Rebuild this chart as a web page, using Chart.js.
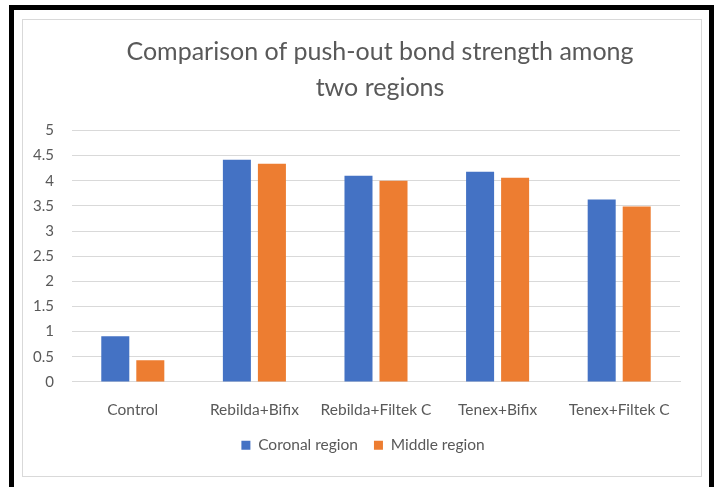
<!DOCTYPE html>
<html>
<head>
<meta charset="utf-8">
<script src="https://cdn.jsdelivr.net/npm/chart.js@4"></script>
<style>
  body { margin: 0; background: #fff; width: 720px; height: 487px; overflow: hidden; position: relative; }
  #frame { position: absolute; left: 9px; top: 5px; width: 695px; height: 500px; border: 5px solid #000; border-bottom: none; }
  #box { position: absolute; left: 22px; top: 19px; width: 680px; height: 458px; border: 1px solid #d9d9d9; box-sizing: border-box; }
  #wrap { position: absolute; left: 22px; top: 19px; width: 680px; height: 458px; }
</style>
</head>
<body>
<div id="frame"></div>
<div id="box"></div>
<div id="wrap"><canvas id="chart"></canvas></div>
<script>
// données
const categories = ["Control", "Rebilda+Bifix", "Rebilda+Filtek C", "Tenex+Bifix", "Tenex+Filtek C"];
const coronal = [0.91, 4.42, 4.10, 4.18, 3.63];
const middle = [0.43, 4.34, 4.00, 4.06, 3.49];
const seriesNames = ["Coronal region", "Middle region"];
const titleLines = ["Comparison of push-out bond strength among", "two regions"];

const fontFamily = "Lato, 'Open Sans', sans-serif";
const grey = "#595959";

// titre et légende un peu décalés vers la droite dans l'original
const shiftBlocks = {
  id: "shiftBlocks",
  afterLayout(chart) {
    chart.titleBlock.left += 29;
    chart.titleBlock.right += 29;
    chart.legend.left += 12;
    chart.legend.right += 12;
  }
};

new Chart(document.getElementById("chart"), {
  type: "bar",
  data: {
    labels: categories,
    datasets: [
      { label: seriesNames[0], data: coronal, backgroundColor: "#4472C4" },
      { label: seriesNames[1], data: middle, backgroundColor: "#ED7D31" }
    ]
  },
  options: {
    responsive: true,
    maintainAspectRatio: false,
    animation: false,
    devicePixelRatio: 1,
    datasets: { bar: { categoryPercentage: 0.576, barPercentage: 0.8 } },
    layout: { padding: { left: 0, right: 22, top: 0, bottom: 14 } },
    plugins: {
      title: {
        display: true,
        text: titleLines,
        color: grey,
        font: { family: fontFamily, size: 25, weight: "normal", lineHeight: 1.45 },
        padding: { top: 15, bottom: 24 }
      },
      legend: {
        position: "bottom",
        labels: {
          color: grey,
          font: { family: fontFamily, size: 15.5 },
          boxWidth: 9,
          boxHeight: 9,
          padding: 16
        }
      },
      tooltip: { enabled: false }
    },
    scales: {
      x: {
        grid: { display: false, drawTicks: false },
        border: { color: "#d9d9d9" },
        ticks: { color: grey, font: { family: fontFamily, size: 15.5 }, padding: 19, maxRotation: 0 },
        afterFit: (scale) => { scale.height -= 17; }
      },
      y: {
        min: 0,
        max: 5,
        ticks: {
          stepSize: 0.5,
          color: grey,
          font: { family: fontFamily, size: 15 },
          padding: 18,
          callback: (v) => String(v)
        },
        grid: { color: "#d9d9d9", drawTicks: false },
        border: { display: false },
        afterFit: (scale) => { scale.width = 50; }
      }
    }
  },
  plugins: [shiftBlocks]
});
</script>
</body>
</html>
